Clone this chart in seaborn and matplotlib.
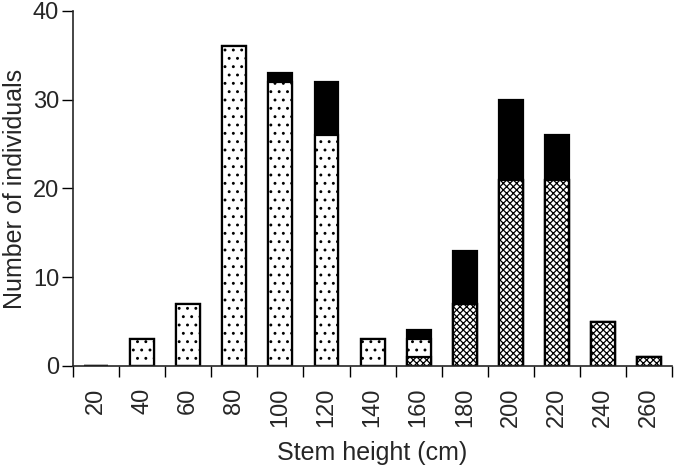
import numpy as np
import pandas as pd
import matplotlib
matplotlib.use("Agg")
import matplotlib.pyplot as plt
import seaborn as sns

# stem height classes (cm)
heights = ["20", "40", "60", "80", "100", "120", "140", "160", "180", "200", "220", "240", "260"]
# three groups, stacked: crosshatch at the bottom, dotted in the middle, black on top
crosshatch = [0, 0, 0, 0, 0, 0, 0, 1, 7, 21, 21, 5, 1]
dotted = [0, 3, 7, 36, 32, 26, 3, 2, 0, 0, 0, 0, 0]
black = [0, 0, 0, 0, 1, 6, 0, 1, 6, 9, 5, 0, 0]

sns.set_style("ticks")
plt.rcParams["font.family"] = ["Liberation Sans", "DejaVu Sans"]
plt.rcParams["hatch.linewidth"] = 0.9

df = pd.DataFrame({"height": heights, "cross": crosshatch, "dots": dotted, "black": black})
df["mid"] = df["cross"] + df["dots"]
df["total"] = df["mid"] + df["black"]

fig = plt.figure(figsize=(6.75, 4.72), dpi=100)
ax = fig.add_axes([0.108, 0.2246, 0.888, 0.7521])

# draw back to front so the bars look stacked
layers = [("total", "black", None), ("mid", "white", ".."), ("cross", "white", "xxxxx")]
for col, fc, hatch in layers:
    sns.barplot(data=df, x="height", y=col, order=heights, color=fc, width=0.52,
                edgecolor="black", linewidth=1.6, hatch=hatch, saturation=1, ax=ax)

ax.set_xlim(-0.5, len(heights) - 0.5)
ax.set_ylim(0, 40)
ax.set_yticks([0, 10, 20, 30, 40])
sns.despine(ax=ax)
for s in ["left", "bottom"]:
    ax.spines[s].set_linewidth(1.2)

# ticks at the class boundaries, labels in the middle
ax.set_xticks(np.arange(-0.5, len(heights)), minor=True)
ax.tick_params(axis="x", which="minor", length=8, width=1.0, color="black")
ax.tick_params(axis="x", which="major", length=0, pad=15.5, labelsize=17, rotation=90)
ax.tick_params(axis="y", length=8, width=1.0, labelsize=17, color="black", pad=2)

ax.set_xlabel("Stem height (cm)", fontsize=18, labelpad=10)
ax.set_ylabel("Number of individuals", fontsize=18, labelpad=4)

fig.savefig("out.png", dpi=100)
